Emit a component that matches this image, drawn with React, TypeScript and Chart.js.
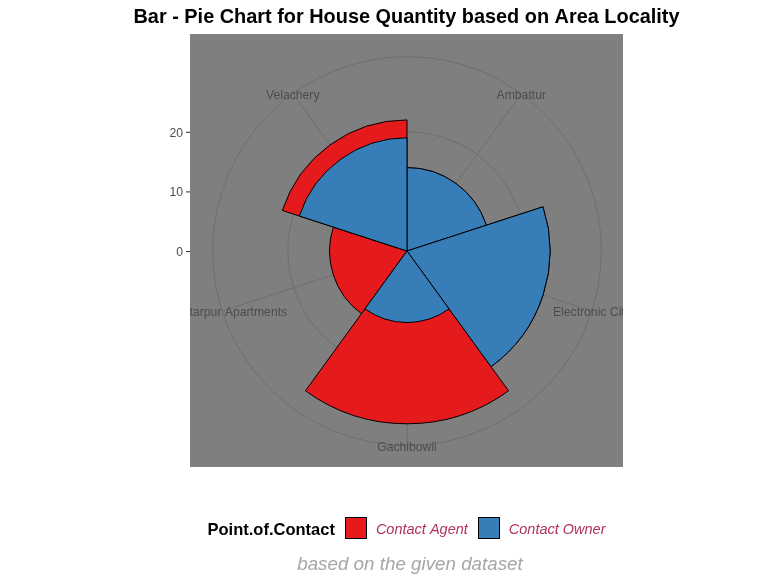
import React, { useEffect, useRef } from 'react';
import { Chart, registerables } from 'chart.js';

Chart.register(...registerables);

// ---- data ----
const localities = ['Ambattur', 'Electronic City', 'Gachibowli', 'Chhattarpur Apartments', 'Velachery'];
const contactAgent = [0, 0, 17, 13, 3];
const contactOwner = [14, 24, 12, 0, 19];
const radiusTicks = [0, 10, 20];
const seriesNames = ['Contact Agent', 'Contact Owner'];
const seriesColors = ['#E41A1C', '#377EB8'];
const legendTitle = 'Point.of.Contact';
const titleText = 'Bar - Pie Chart for House Quantity based on Area Locality';
const captionText = 'based on the given dataset';

const FONT = "'Liberation Sans', Arial, sans-serif";
const W = 775;
const H = 581;

const totals = contactAgent.map((a, i) => a + contactOwner[i]);
const maxTotal = Math.max(...totals);

const decor = {
  id: 'decor',
  beforeDraw(chart: any) {
    const { ctx, chartArea } = chart;
    ctx.save();
    ctx.fillStyle = '#FFFFFF';
    ctx.fillRect(0, 0, chart.width, chart.height);
    ctx.fillStyle = '#7F7F7F';
    ctx.fillRect(chartArea.left - 1, chartArea.top - 1, chartArea.width, chartArea.height);
    ctx.restore();
  },
  beforeDatasetsDraw(chart: any) {
    const { ctx } = chart;
    const s = chart.scales.r;
    const n = localities.length;
    const outerR = s.getDistanceFromCenterForValue(maxTotal * 1.125);
    ctx.save();
    ctx.strokeStyle = '#6B6B6B';
    ctx.lineWidth = 0.8;
    ctx.beginPath();
    ctx.arc(s.xCenter, s.yCenter, outerR, 0, Math.PI * 2);
    ctx.stroke();
    for (let i = 0; i < n; i++) {
      const p = s.getPointPosition(i, outerR, Math.PI / n);
      ctx.beginPath();
      ctx.moveTo(s.xCenter, s.yCenter);
      ctx.lineTo(p.x, p.y);
      ctx.stroke();
    }
    ctx.restore();
  },
  afterDraw(chart: any) {
    const { ctx, chartArea } = chart;
    const s = chart.scales.r;
    const n = localities.length;
    const pl = chartArea.left - 1;
    const pt = chartArea.top - 1;
    const pw = chartArea.width;
    const ph = chartArea.height;
    const pcx = pl + pw / 2;
    const outerR = s.getDistanceFromCenterForValue(maxTotal * 1.125);

    ctx.save();
    // theta labels, clipped to panel
    ctx.beginPath();
    ctx.rect(pl, pt, pw, ph);
    ctx.clip();
    ctx.fillStyle = '#4D4D4D';
    ctx.font = `12.2px ${FONT}`;
    ctx.textAlign = 'center';
    ctx.textBaseline = 'middle';
    for (let i = 0; i < n; i++) {
      const p = s.getPointPosition(i, outerR, Math.PI / n);
      ctx.fillText(localities[i], p.x, p.y + 2);
    }
    ctx.restore();

    ctx.save();
    // r axis
    ctx.fillStyle = '#4D4D4D';
    ctx.font = `12.2px ${FONT}`;
    ctx.textAlign = 'right';
    ctx.textBaseline = 'middle';
    ctx.strokeStyle = '#333333';
    ctx.lineWidth = 1;
    radiusTicks.forEach((v) => {
      const y = s.yCenter - s.getDistanceFromCenterForValue(v) + 0.5;
      ctx.fillText(String(v), pl - 7, y + 1);
      ctx.beginPath();
      ctx.moveTo(pl - 4, y);
      ctx.lineTo(pl, y);
      ctx.stroke();
    });

    // title
    ctx.fillStyle = '#000000';
    ctx.font = `bold 19.9px ${FONT}`;
    ctx.textAlign = 'center';
    ctx.textBaseline = 'alphabetic';
    ctx.fillText(titleText, pcx, 23);

    // legend
    const titleFont = `bold 16.5px ${FONT}`;
    const itemFont = `italic 14.5px ${FONT}`;
    const sw = 22;
    ctx.font = titleFont;
    const tw = ctx.measureText(legendTitle).width;
    ctx.font = itemFont;
    const iw = seriesNames.map((t) => ctx.measureText(t).width);
    const gapTitle = 10;
    const gapSw = 9;
    const gapItem = 10;
    let total = tw + gapTitle;
    iw.forEach((w, i) => {
      total += sw + gapSw + w + (i < iw.length - 1 ? gapItem : 0);
    });
    let x = pcx - total / 2;
    const ly = 528;
    ctx.textAlign = 'left';
    ctx.textBaseline = 'middle';
    ctx.font = titleFont;
    ctx.fillStyle = '#000000';
    ctx.fillText(legendTitle, x, ly + 2);
    x += tw + gapTitle;
    seriesNames.forEach((name, i) => {
      const sx = Math.round(x);
      ctx.fillStyle = seriesColors[i];
      ctx.fillRect(sx, ly - sw / 2, sw, sw);
      ctx.strokeStyle = '#000000';
      ctx.lineWidth = 1;
      ctx.strokeRect(sx + 0.5, ly - sw / 2 + 0.5, sw - 1, sw - 1);
      x += sw + gapSw;
      ctx.font = itemFont;
      ctx.fillStyle = '#B03060';
      ctx.fillText(name, x, ly + 2);
      x += iw[i] + gapItem;
    });

    // caption
    ctx.font = `italic 18.8px ${FONT}`;
    ctx.fillStyle = '#A6A6A6';
    ctx.textAlign = 'center';
    ctx.textBaseline = 'alphabetic';
    ctx.fillText(captionText, pcx + 3.5, 570);
    ctx.restore();
  },
};

export default function App() {
  const ref = useRef<HTMLCanvasElement | null>(null);
  useEffect(() => {
    if (!ref.current) return;
    const chart = new Chart(ref.current, {
      type: 'polarArea',
      data: {
        labels: localities,
        datasets: [
          {
            label: seriesNames[1],
            data: contactOwner,
            backgroundColor: seriesColors[1],
            borderColor: '#000000',
            borderWidth: 1,
          },
          {
            label: seriesNames[0],
            data: totals,
            backgroundColor: seriesColors[0],
            borderColor: '#000000',
            borderWidth: 1,
          },
        ],
      },
      options: {
        animation: false,
        responsive: false,
        devicePixelRatio: 1,
        layout: { padding: { left: 191, right: W - 624, top: 35, bottom: H - 468 } },
        plugins: {
          legend: { display: false },
          title: { display: false },
          tooltip: { enabled: false },
        },
        scales: {
          r: {
            min: 0,
            max: maxTotal * 1.25,
            startAngle: 0,
            ticks: { display: false },
            afterBuildTicks: (scale: any) => {
              scale.ticks = radiusTicks.map((v) => ({ value: v }));
            },
            grid: { color: '#6B6B6B', lineWidth: 0.8, circular: true },
            angleLines: { display: false },
            pointLabels: { display: false },
          },
        },
      } as any,
      plugins: [decor],
    });
    return () => chart.destroy();
  }, []);
  return (
    <div style={{ position: 'fixed', left: 0, top: 0, width: W, height: H }}>
      <canvas ref={ref} width={W} height={H} style={{ width: W, height: H }} />
    </div>
  );
}
